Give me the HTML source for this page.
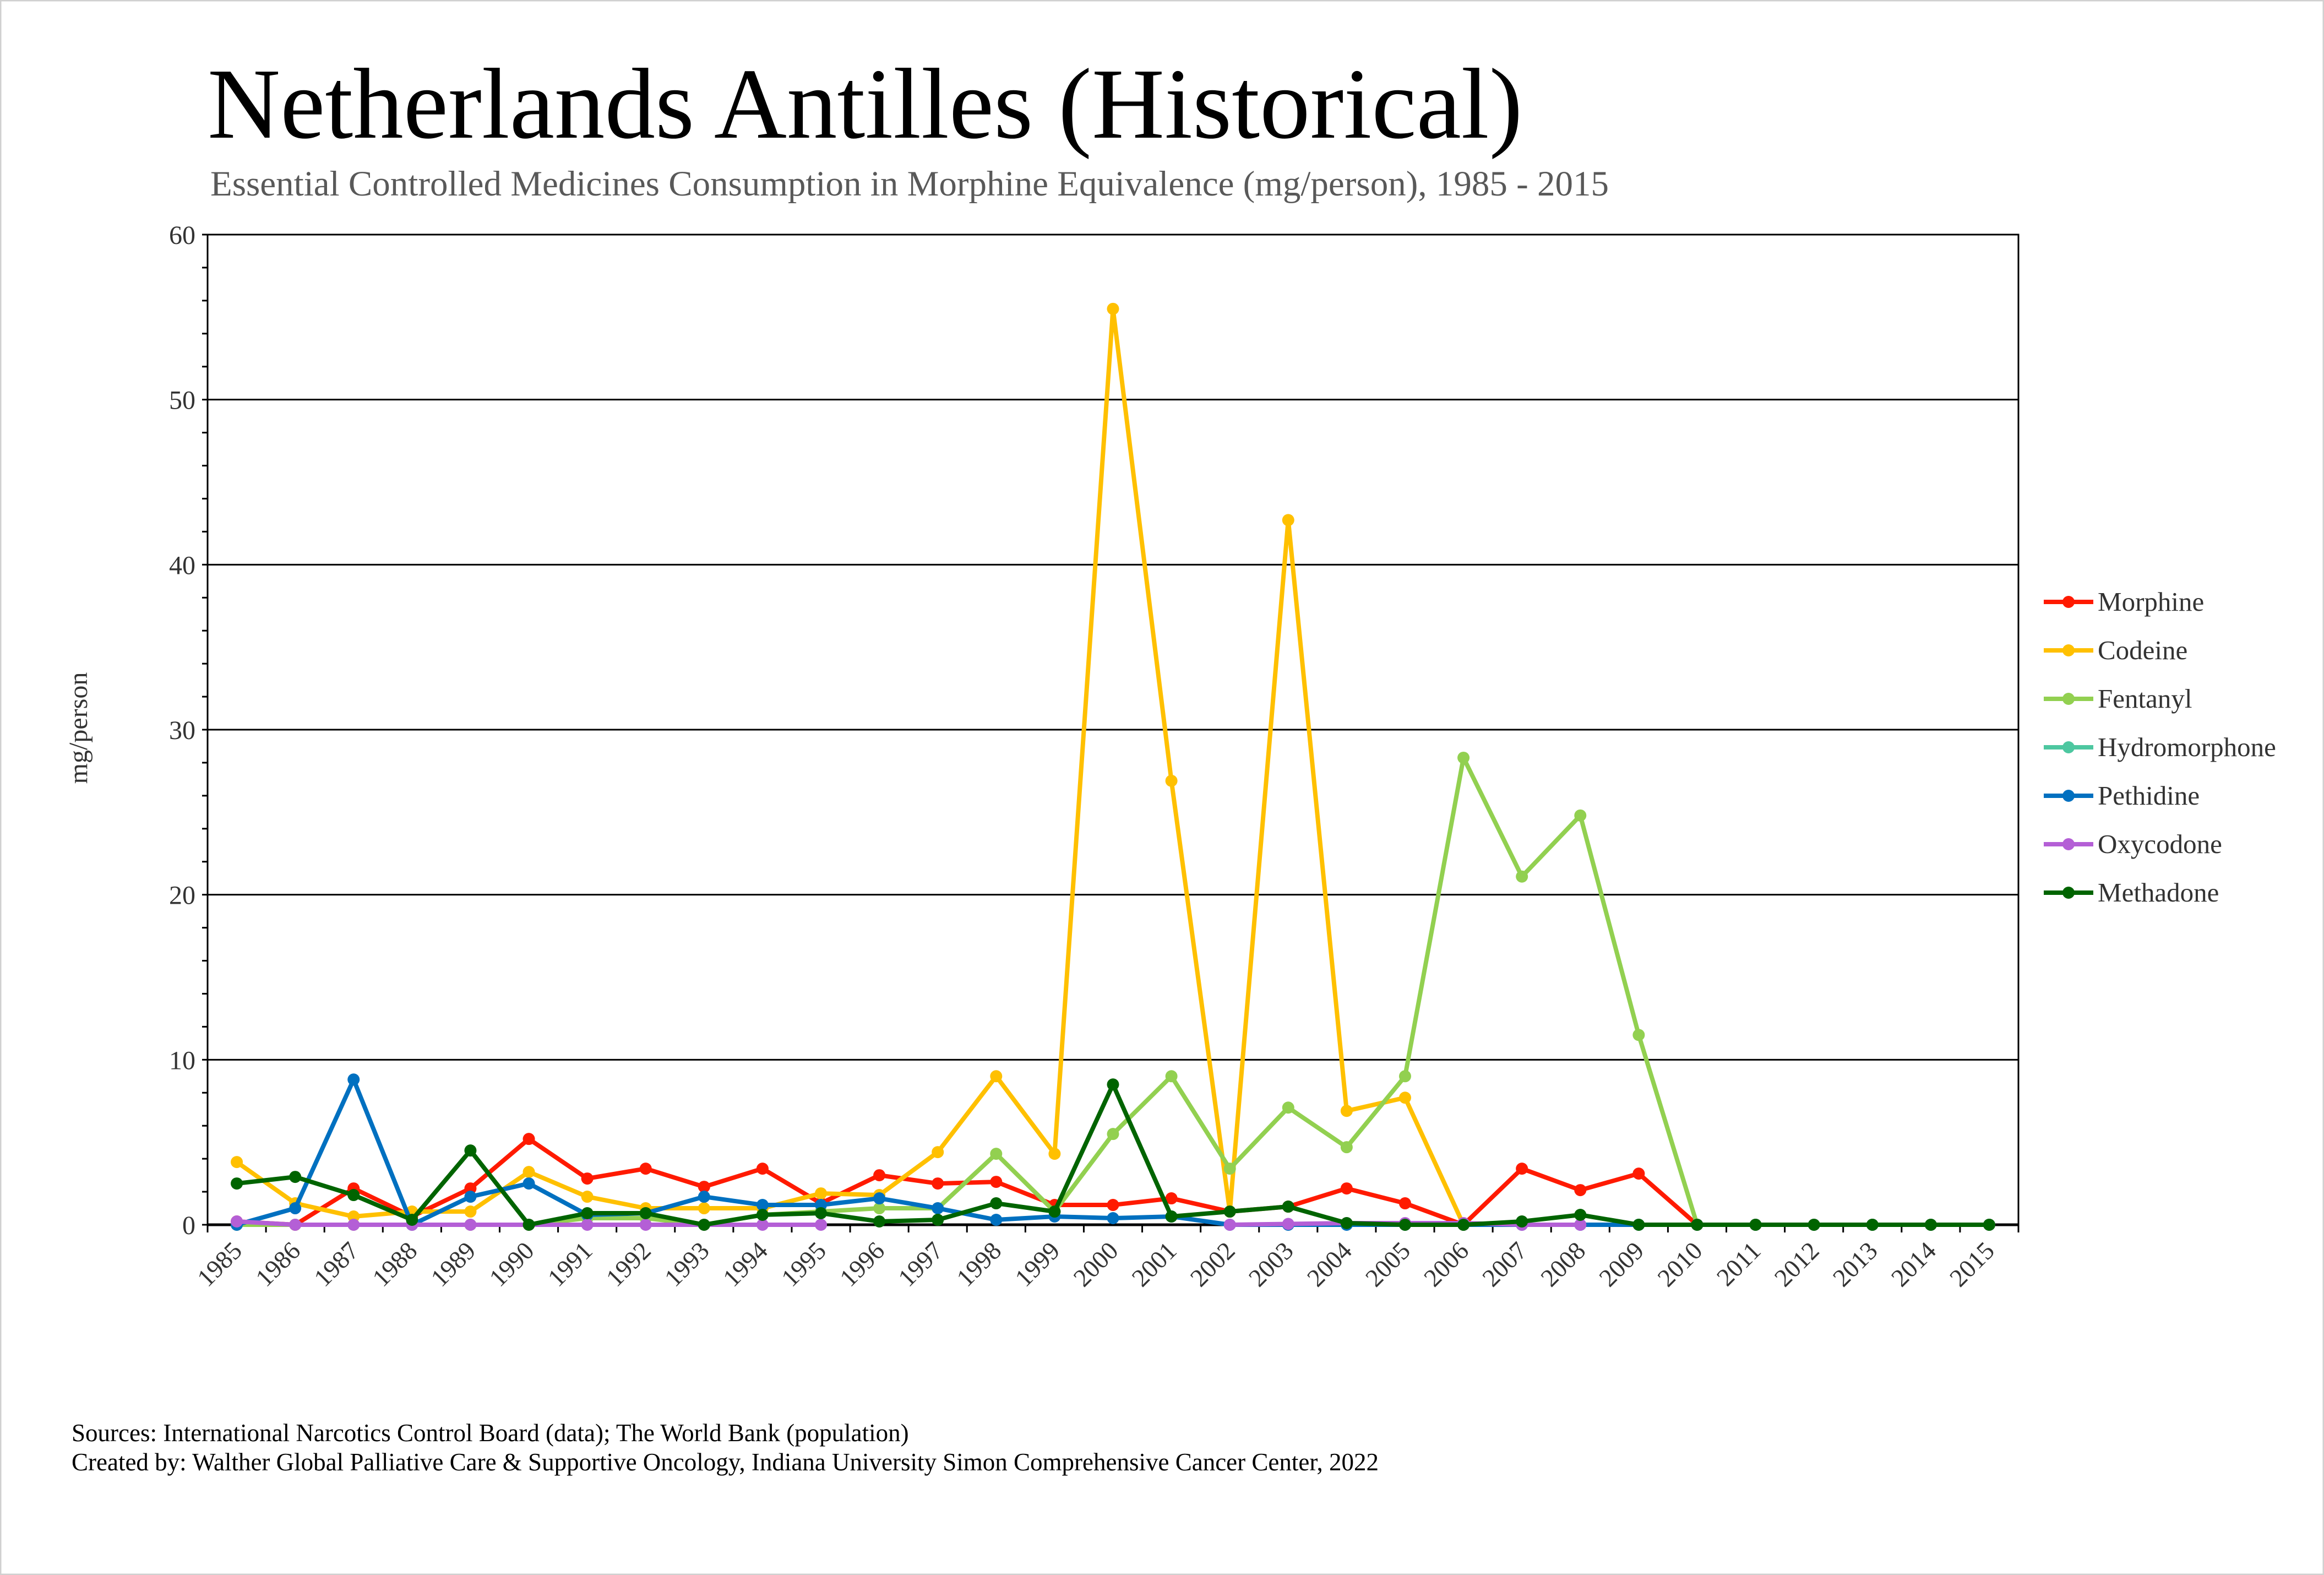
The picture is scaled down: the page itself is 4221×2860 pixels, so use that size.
<!DOCTYPE html>
<html><head><meta charset="utf-8"><style>
body{margin:0;background:#fff}
svg{display:block;font-family:"Liberation Serif",serif}
</style></head><body>
<svg id="chart" width="4221" height="2860" viewBox="0 0 4221 2860" xmlns="http://www.w3.org/2000/svg">
<rect x="1" y="1" width="4219" height="2858" fill="#fff" stroke="#d0d0d0" stroke-width="3"/>
<text x="377" y="250" font-size="183" fill="#000">Netherlands Antilles (Historical)</text>
<text x="382" y="355" font-size="65" fill="#595959">Essential Controlled Medicines Consumption in Morphine Equivalence (mg/person), 1985 - 2015</text>
<text transform="translate(158,1322) rotate(-90)" text-anchor="middle" font-size="48" fill="#333">mg/person</text>
<g id="grid"></g><g id="axes"></g><g id="series"></g><g id="legend"></g>
<text x="130" y="2617" font-size="45">Sources: International Narcotics Control Board (data); The World Bank (population)</text>
<text x="130" y="2670" font-size="45">Created by: Walther Global Palliative Care &amp; Supportive Oncology, Indiana University Simon Comprehensive Cancer Center, 2022</text>
</svg>
<script>
const years=[1985,1986,1987,1988,1989,1990,1991,1992,1993,1994,1995,1996,1997,1998,1999,2000,2001,2002,2003,2004,2005,2006,2007,2008,2009,2010,2011,2012,2013,2014,2015];
const yTicks=[0,10,20,30,40,50,60];
const morphine=[0.2,0,2.2,0.5,2.2,5.2,2.8,3.4,2.3,3.4,1.3,3.0,2.5,2.6,1.2,1.2,1.6,0.8,1.1,2.2,1.3,0,3.4,2.1,3.1,0,0,0,0,0,0];
const codeine=[3.8,1.3,0.5,0.8,0.8,3.2,1.7,1.0,1.0,1.0,1.9,1.8,4.4,9.0,4.3,55.5,26.9,0.8,42.7,6.9,7.7,0,null,null,null,null,null,null,null,null,null];
const fentanyl=[0,0,0,0,0,0,0.4,0.4,0,0.6,0.8,1.0,1.0,4.3,0.8,5.5,9.0,3.4,7.1,4.7,9.0,28.3,21.1,24.8,11.5,0,0,0,0,0,0];
const hydromorphone=[null,null,null,null,null,null,null,null,null,null,null,null,null,null,null,null,null,null,null,null,null,null,null,null,null,null,null,null,null,null,null];
const pethidine=[0,1.0,8.8,0,1.7,2.5,0.6,0.7,1.7,1.2,1.2,1.6,1.0,0.3,0.5,0.4,0.5,0,0,0,0,0,0,0,0,0,0,0,0,0,0];
const oxycodone=[0.2,0,0,0,0,0,0,0,0,0,0,null,null,null,null,null,null,0,0.05,0.1,0.1,0.1,0,0,null,null,null,null,null,null,null];
const methadone=[2.5,2.9,1.8,0.3,4.5,0,0.7,0.7,0,0.6,0.7,0.2,0.3,1.3,0.8,8.5,0.5,0.8,1.1,0.1,0,0,0.2,0.6,0,0,0,0,0,0,0];
const seriesNames=["Morphine","Codeine","Fentanyl","Hydromorphone","Pethidine","Oxycodone","Methadone"];
const seriesData=[morphine,codeine,fentanyl,hydromorphone,pethidine,oxycodone,methadone];
const colors=["#ff1a00","#ffc000","#92d050","#4dc7a0","#0070c0","#b45fd6","#006400"];
const NS="http://www.w3.org/2000/svg";
const L=377,R=3666,T=426,B=2224,yMax=60;
const step=(R-L)/years.length;
const xS=i=>L+step*(i+0.5);
const yS=v=>B-(v/yMax)*(B-T);
function mk(tag,attrs,parent){const e=document.createElementNS(NS,tag);for(const k in attrs)e.setAttribute(k,attrs[k]);parent.appendChild(e);return e;}
const grid=document.getElementById('grid'),axes=document.getElementById('axes'),ser=document.getElementById('series'),leg=document.getElementById('legend');
yTicks.forEach(t=>{
 const l=mk('line',{x1:L,x2:R,y1:yS(t),y2:yS(t),stroke:'#000','stroke-width':3},grid);
 
 
 const tx=mk('text',{x:L-22,y:yS(t)+17,'text-anchor':'end','font-size':48,fill:'#333'},axes);
 tx.textContent=t;
 
 
});
for(let v=0;v<=yMax;v+=2){mk('line',{x1:L-10,x2:L,y1:yS(v),y2:yS(v),stroke:'#000','stroke-width':3},axes);}
const fr=mk('rect',{x:L,y:T,width:R-L,height:B-T,fill:'none',stroke:'#000','stroke-width':3},axes);


mk('line',{x1:L,x2:R,y1:B,y2:B,stroke:'#000','stroke-width':5},axes);
years.forEach((y,i)=>{
 mk('line',{x1:L+step*i,x2:L+step*i,y1:B,y2:B+14,stroke:'#000','stroke-width':3},axes);
 const x=xS(i),yy=B+40;
 const tx=mk('text',{x:x+12,y:yy+10,'text-anchor':'end','font-size':46,fill:'#333',transform:`rotate(-45 ${x+12} ${yy+10})`},axes);
 tx.textContent=y;
 
 
});
mk('line',{x1:R,x2:R,y1:B,y2:B+14,stroke:'#000','stroke-width':3},axes);
seriesData.forEach((d,si)=>{
 const g=mk('g',{},ser);
 
 
 let segs=[],cur=[];
 d.forEach((v,i)=>{if(v===null){if(cur.length)segs.push(cur);cur=[];}else cur.push([xS(i),yS(v)]);});
 if(cur.length)segs.push(cur);
 segs.forEach(s=>{if(s.length>1){const p=mk('polyline',{points:s.map(p=>p.join(',')).join(' '),fill:'none',stroke:colors[si],'stroke-width':8,'stroke-linejoin':'round'},g);
  
  }});
 d.forEach((v,i)=>{if(v===null)return;
  const c=mk('circle',{cx:xS(i),cy:yS(v),r:11,fill:colors[si]},g);
  
  });
});
seriesNames.forEach((n,si)=>{
 const y=1093+si*88;
 const g=mk('g',{},leg);
 
 
 mk('line',{x1:3712,x2:3802,y1:y,y2:y,stroke:colors[si],'stroke-width':8},g);
 mk('circle',{cx:3757,cy:y,r:11,fill:colors[si]},g);
 const t=mk('text',{x:3810,y:y+16,'font-size':49,fill:'#333'},g);
 t.textContent=n;
});
</script>
</body></html>
